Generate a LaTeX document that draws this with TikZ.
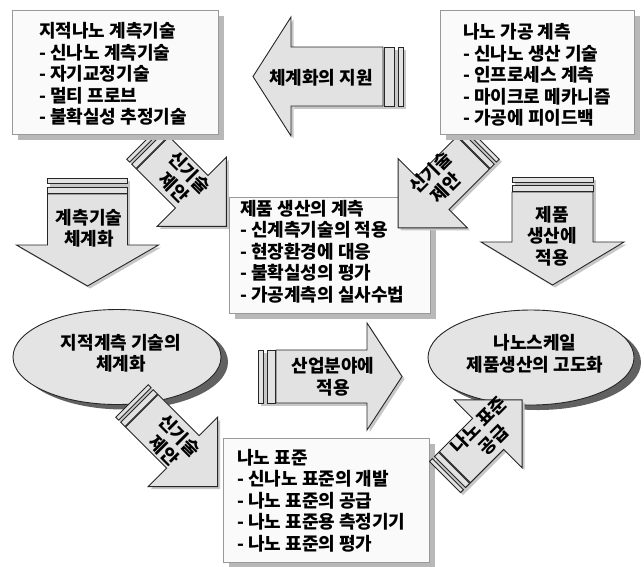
\documentclass[tikz,border=0pt]{standalone}
\usepackage{fontspec}
\setmainfont{Noto Sans CJK KR}
\usetikzlibrary{calc,shapes.geometric,shadows}
\definecolor{arrfill}{HTML}{E2E2E2}
\definecolor{ellfill}{HTML}{E4E4E4}
\definecolor{boxfill}{HTML}{FAFAFA}
\newcommand\myblockarrow[9]{%
 \begin{scope}[xshift=2.5pt,yshift=-2.5pt,shift={#1},rotate=#2]
  \fill[ashadow] (0,-#3) rectangle ({#5-#6},#3);
  \fill[ashadow] ({#5-#6},-#4) -- (#5,0) -- ({#5-#6},#4) -- cycle;
 \end{scope}
 \begin{scope}[shift={#1},rotate=#2]
  \draw[arrline] (0,-#3) rectangle (#7,#3);
  \draw[arrline] (#8,-#3) rectangle (#9,#3);
  \draw[arrline] ({#9+1},-#3) -- ({#5-#6},-#3) -- ({#5-#6},-#4) -- (#5,0) -- ({#5-#6},#4) -- ({#5-#6},#3) -- ({#9+1},#3) -- cycle;
 \end{scope}}
\tikzset{
 arrline/.style={draw=black!85, line width=0.9pt, fill=arrfill, line join=miter},
 ashadow/.style={fill=black!22},
 boxsty/.style={rectangle, draw=black!40, line width=0.8pt, fill=boxfill, inner sep=0pt, anchor=north west,
   drop shadow={shadow xshift=6pt, shadow yshift=-6pt, fill=black!28, opacity=1}},
 ellsty/.style={ellipse, draw=black!85, line width=0.9pt, fill=ellfill, inner sep=0pt,
   drop shadow={shadow xshift=7pt, shadow yshift=-5pt, fill=black!62, opacity=1}},
 txt/.style={font=\bfseries\fontsize{18}{21.5}\selectfont, align=left, inner sep=0pt, anchor=west},
 ctxt/.style={font=\bfseries\fontsize{18}{21.5}\selectfont, align=center, inner sep=0pt},
}
\begin{document}
\begin{tikzpicture}[x=1pt,y=-1pt]
\useasboundingbox (0,0) rectangle (644,566);
\fill[white] (0,0) rectangle (644,566);

% centre box
\node[boxsty, minimum width=201pt, minimum height=116pt] (b3) at (229,197) {};

% big horizontal arrows
\myblockarrow{(403,76.5)}{180}{29.5}{59.5}{150}{38}{5}{9}{19}
\myblockarrow{(258,376.5)}{0}{26.5}{53.5}{144}{35}{5}{9}{17}
% down arrows
\myblockarrow{(87.5,178)}{-90}{40}{71}{108}{41}{5}{9}{15}
\myblockarrow{(552.5,177)}{-90}{40.5}{71.5}{108}{43}{5}{8}{14}
% diagonal arrows from top boxes
\myblockarrow{(143,143)}{-45}{23}{49}{118}{49}{4}{7}{13}
\myblockarrow{(483,143)}{-135}{23}{49}{120}{49}{4}{7}{13}

% top boxes
\node[boxsty, minimum width=206pt, minimum height=124pt] (b1) at (12,10) {};
\node[boxsty, minimum width=194pt, minimum height=124pt] (b2) at (440,10) {};

% ellipses
\node[ellsty, minimum width=208pt, minimum height=95pt] (e1) at (117,357) {};
\node[ellsty, minimum width=206pt, minimum height=95pt] (e2) at (531,357.5) {};

% bottom box
\node[boxsty, minimum width=206pt, minimum height=124pt] (b4) at (223,438) {};

% diagonal arrows near bottom
\myblockarrow{(132,401)}{-45}{23}{49}{121}{49}{4}{7}{13}
\myblockarrow{(445,477)}{45}{22}{48}{109}{48}{4}{7}{13}

% texts
\node[txt] (t1) at ($(b1.west)+(27,1.5)$) {지적나노 계측기술\\- 신나노 계측기술\\- 자기교정기술\\- 멀티 프로브\\- 불확실성 추정기술};
\node[txt] (t2) at ($(b2.west)+(23,2.5)$) {나노 가공 계측\\- 신나노 생산 기술\\- 인프로세스 계측\\- 마이크로 메카니즘\\- 가공에 피이드백};
\node[txt] (t3) at ($(b3.west)+(11,-4)$) {제품 생산의 계측\\- 신계측기술의 적용\\- 현장환경에 대응\\- 불확실성의 평가\\- 가공계측의 실사수법};
\node[txt] (t4) at ($(b4.west)+(14,0)$) {나노 표준\\- 신나노 표준의 개발\\- 나노 표준의 공급\\- 나노 표준용 측정기기\\- 나노 표준의 평가};

\node[ctxt] (la1) at (321,78) {체계화의 지원};
\node[ctxt] (la2) at (333,377) {산업분야에\\적용};
\node[ctxt] (la3) at (89,228) {계측기술\\체계화};
\node[ctxt] (la4) at (552,236) {제품\\생산에\\적용};
\node[ctxt, rotate=-45] (la5) at (182,180) {신기술\\제안};
\node[ctxt, rotate=45] (la6) at (438,180) {신기술\\제안};
\node[ctxt, rotate=-45] (la7) at (172,443) {신기술\\제안};
\node[ctxt, rotate=45] (la8) at (486,432) {나노 표준\\공급};
\node[ctxt] (le1) at (121,353) {지적계측 기술의\\체계화};
\node[ctxt] (le2) at (535,354) {나노스케일\\제품생산의 고도화};
\end{tikzpicture}
\end{document}
